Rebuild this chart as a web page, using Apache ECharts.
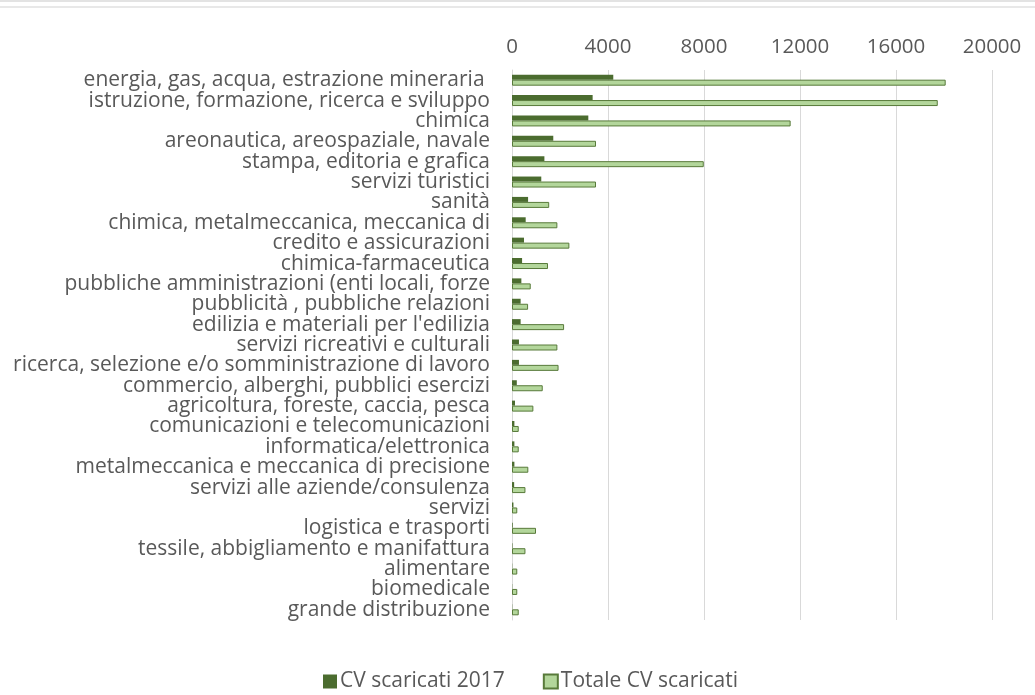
<!DOCTYPE html>
<html>
<head>
<meta charset="utf-8">
<script src="https://cdn.jsdelivr.net/npm/echarts@6/dist/echarts.min.js"></script>
<style>
  html, body { margin: 0; padding: 0; background: #fff; }
  #chart { width: 1035px; height: 695px; }
</style>
</head>
<body>
<div id="chart"></div>
<script>
  // categorie (dall'alto verso il basso)
  var categories = [
    'energia, gas, acqua, estrazione mineraria ',
    'istruzione, formazione, ricerca e sviluppo',
    'chimica',
    'areonautica, areospaziale, navale',
    'stampa, editoria e grafica',
    'servizi turistici',
    'sanità',
    'chimica, metalmeccanica, meccanica di',
    'credito e assicurazioni',
    'chimica-farmaceutica',
    'pubbliche amministrazioni (enti locali, forze',
    'pubblicità , pubbliche relazioni',
    "edilizia e materiali per l'edilizia",
    'servizi ricreativi e culturali',
    'ricerca, selezione e/o somministrazione di lavoro',
    'commercio, alberghi, pubblici esercizi',
    'agricoltura, foreste, caccia, pesca',
    'comunicazioni e telecomunicazioni',
    'informatica/elettronica',
    'metalmeccanica e meccanica di precisione',
    'servizi alle aziende/consulenza',
    'servizi',
    'logistica e trasporti',
    'tessile, abbigliamento e manifattura',
    'alimentare',
    'biomedicale',
    'grande distribuzione'
  ];
  var cv2017 = [4220, 3360, 3180, 1720, 1350, 1220, 670, 570, 500, 420, 390, 360, 360,
                290, 290, 200, 125, 100, 100, 100, 90, 60, 30, 20, 10, 10, 10];
  var cvTotale = [18070, 17740, 11610, 3500, 7990, 3500, 1550, 1890, 2390, 1500, 780, 670, 2170,
                  1890, 1940, 1280, 890, 280, 280, 680, 560, 220, 1000, 560, 220, 220, 280];
  var xTicks = [0, 4000, 8000, 12000, 16000, 20000];

  var myChart = echarts.init(document.getElementById('chart'));
  var font = 'Open Sans';
  var option = {
    animation: false,
    textStyle: { fontFamily: font },
    graphic: [
      { type: 'rect', shape: { x: 0, y: 0, width: 1035, height: 2 }, style: { fill: '#e3e3e3' } },
      { type: 'rect', shape: { x: 0, y: 6, width: 1035, height: 2 }, style: { fill: '#e8e8e8' } }
    ],
    grid: { left: 512, right: 43, top: 70, bottom: 75 },
    legend: {
      top: 666,
      left: 318,
      icon: 'rect',
      itemWidth: 14,
      itemHeight: 14,
      itemGap: 38,
      textStyle: { fontSize: 21, color: '#595959', fontFamily: font, padding: [0, 0, 0, -2] },
      data: ['CV scaricati 2017', 'Totale CV scaricati']
    },
    xAxis: {
      type: 'value',
      position: 'top',
      min: xTicks[0],
      max: xTicks[xTicks.length - 1],
      interval: 4000,
      axisLine: { show: false },
      axisTick: { show: false },
      axisLabel: { fontSize: 20.5, color: '#595959', margin: 12, formatter: function (v) { return String(v); } },
      splitLine: { lineStyle: { color: '#d9d9d9', width: 1 } }
    },
    yAxis: {
      type: 'category',
      inverse: true,
      data: categories,
      axisLine: { show: true, lineStyle: { color: '#d9d9d9' } },
      axisTick: { show: false },
      axisLabel: { fontSize: 21, color: '#595959', margin: 22, interval: 0 }
    },
    series: [
      {
        name: 'CV scaricati 2017',
        type: 'bar',
        data: cv2017,
        barWidth: 5,
        barGap: 0,
        itemStyle: { color: '#4b6c2f' }
      },
      {
        name: 'Totale CV scaricati',
        type: 'bar',
        data: cvTotale,
        barWidth: 6,
        itemStyle: { color: '#b3d69b', borderColor: '#587a3a', borderWidth: 1 }
      }
    ]
  };
  myChart.setOption(option);
  window.onresize = function () {
    myChart.resize();
  };
</script>
</body>
</html>
